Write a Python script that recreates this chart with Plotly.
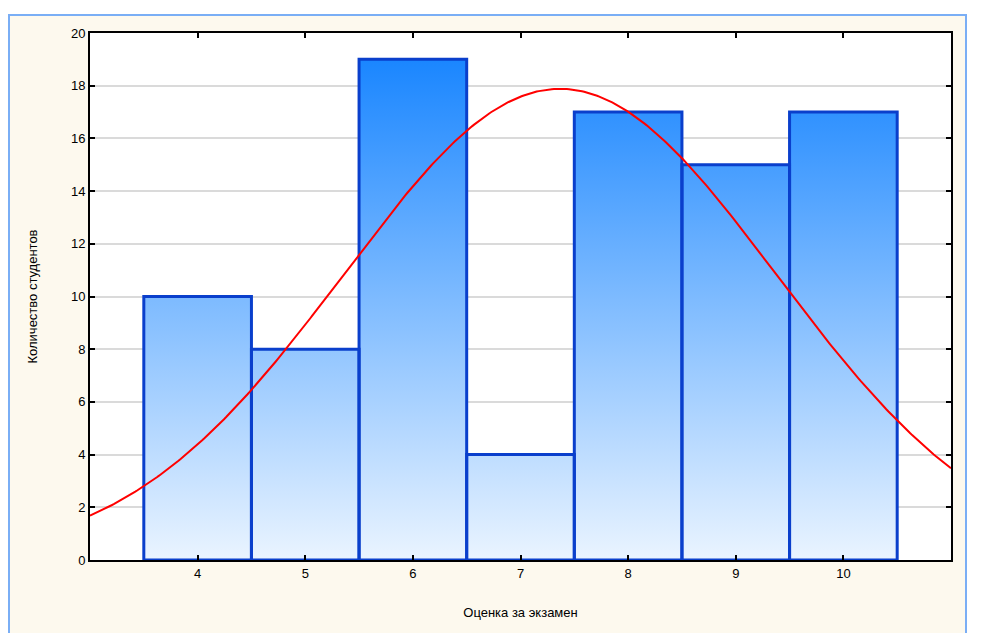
import numpy as np
import plotly.graph_objects as go

# Data
grades = [4, 5, 6, 7, 8, 9, 10]
counts = [10, 8, 19, 4, 17, 15, 17]
y_ticks = [0, 2, 4, 6, 8, 10, 12, 14, 16, 18, 20]
x_title = "Оценка за экзамен"
y_title = "Количество студентов"

g = np.array(grades, dtype=float)
c = np.array(counts, dtype=float)
n = c.sum()
mean = (g * c).sum() / n
sd = np.sqrt(((g - mean) ** 2 * c).sum() / (n - 1))
xs = np.linspace(3, 11, 400)
ys = n * 1.0 / (sd * np.sqrt(2 * np.pi)) * np.exp(-0.5 * ((xs - mean) / sd) ** 2)

# bar polygons (derived from data)
px, py = [], []
for gx, cy in zip(grades, counts):
    px += [gx - 0.5, gx - 0.5, gx + 0.5, gx + 0.5, gx - 0.5, None]
    py += [0, cy, cy, 0, 0, None]

fig = go.Figure()
fig.add_trace(go.Scatter(
    x=px, y=py, mode="lines", fill="toself", line=dict(width=0, color="rgba(0,0,0,0)"),
    fillgradient=dict(type="vertical", start=0, stop=19,
                      colorscale=[[0, "#EAF4FF"], [1, "#1A86FF"]]),
    hoverinfo="skip", showlegend=False))
fig.add_trace(go.Scatter(
    x=px, y=py, mode="lines", line=dict(width=3, color="#0A3FCC"),
    hoverinfo="skip", showlegend=False))
fig.add_trace(go.Scatter(x=xs, y=ys, mode="lines", line=dict(color="#FF0000", width=2),
                         showlegend=False))

L, R, T, B = 90, 951, 33, 560
W, H = R - L, B - T
def px2x(p): return (p - L) / W
def px2y(p): return (B - p) / H

fig.update_layout(
    width=992, height=633,
    margin=dict(l=L, r=992 - R, t=T, b=633 - B),
    paper_bgcolor="white", plot_bgcolor="white",
    font=dict(family="Liberation Sans", size=12, color="black"),
    shapes=[
        dict(type="rect", xref="paper", yref="paper", layer="below",
             x0=px2x(9), x1=px2x(966), y0=px2y(700), y1=px2y(15),
             fillcolor="#FDF9EE", line=dict(color="#7AAEF5", width=2)),
        dict(type="rect", xref="paper", yref="paper", layer="below",
             x0=0, x1=1, y0=0, y1=1, fillcolor="white", line=dict(width=0)),
    ],
    xaxis=dict(range=[3, 11], tickvals=grades, ticktext=[str(v) for v in grades],
               showgrid=False, zeroline=False, showline=True, linecolor="black", linewidth=2,
               mirror="ticks", ticks="inside", ticklen=5, tickcolor="black", tickwidth=2,
               tickfont=dict(size=13, family="Liberation Sans"),
               title=dict(text=x_title, standoff=28, font=dict(size=13))),
    yaxis=dict(range=[0, 20], tickvals=y_ticks, showgrid=True, gridcolor="#DADADA", gridwidth=2,
               zeroline=False, showline=True, linecolor="black", linewidth=2,
               mirror="ticks", ticks="inside", ticklen=5, tickcolor="black", tickwidth=2,
               tickfont=dict(size=13, family="Liberation Sans"),
               title=dict(text=y_title, standoff=30, font=dict(size=13))),
)

fig.write_html("out.html", config={"displayModeBar": False},
               post_script="document.body.style.margin='0px';")
